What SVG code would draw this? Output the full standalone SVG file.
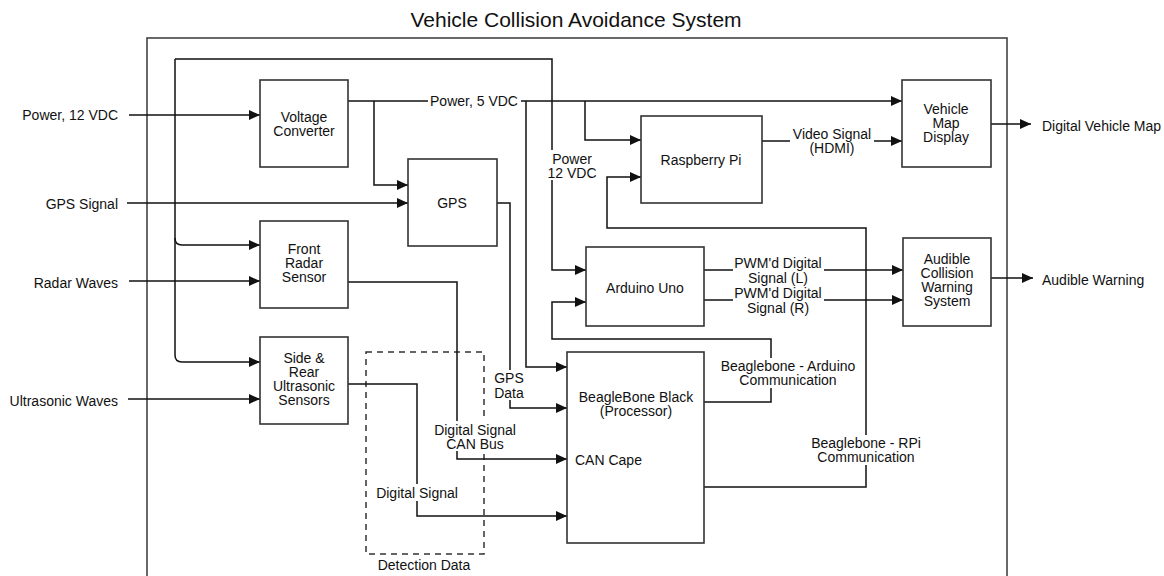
<svg xmlns="http://www.w3.org/2000/svg" width="1164" height="576" viewBox="0 0 1164 576">
<defs>
<style>
text{font-family:"Liberation Sans",Arial,sans-serif;font-size:14px;fill:#111}
.c{text-anchor:middle}
.e{text-anchor:end}
.box{fill:#fff;stroke:#333;stroke-width:1.6}
.ln{fill:none;stroke:#111;stroke-width:1.5}
.bg{fill:#fff;stroke:none}
</style>
<marker id="ah" markerUnits="userSpaceOnUse" markerWidth="11" markerHeight="10" refX="11" refY="5" orient="auto"><path d="M0,0 L11,5 L0,10 z" fill="#111"/></marker>
</defs>
<rect width="1164" height="576" fill="#fff"/>
<text x="576" y="27" class="c" style="font-size:21px">Vehicle Collision Avoidance System</text>
<rect x="147" y="38" width="860" height="560" fill="none" stroke="#444" stroke-width="1.6"/>
<rect x="366" y="352" width="118" height="202" fill="none" stroke="#333" stroke-width="1.5" stroke-dasharray="6,5"/>
<g id="connectors">
<path class="ln" marker-end="url(#ah)" d="M129,115 H260"/>
<path class="ln" marker-end="url(#ah)" d="M127,203 H408"/>
<path class="ln" marker-end="url(#ah)" d="M129,281 H260"/>
<path class="ln" marker-end="url(#ah)" d="M128,399 H260"/>
<path class="ln" marker-end="url(#ah)" d="M175,59 H552 V270 H586"/>
<path class="ln" marker-end="url(#ah)" d="M175,59 V355 Q175,362 182,362 H260"/>
<path class="ln" marker-end="url(#ah)" d="M175,238 Q175,245 182,245 H260"/>
<path class="ln" marker-end="url(#ah)" d="M348,101 H902"/>
<path class="ln" marker-end="url(#ah)" d="M374,101 V185 H408"/>
<path class="ln" marker-end="url(#ah)" d="M526,101 V367 H567"/>
<path class="ln" marker-end="url(#ah)" d="M585,101 V140 H641"/>
<path class="ln" marker-end="url(#ah)" d="M762,141 H902"/>
<path class="ln" marker-end="url(#ah)" d="M991,124 H1031"/>
<path class="ln" marker-end="url(#ah)" d="M704,487 H866 V228 H607 V177 H641"/>
<path class="ln" marker-end="url(#ah)" d="M704,402 H771 V339 H552 V302 H586"/>
<path class="ln" marker-end="url(#ah)" d="M704,270 H903"/>
<path class="ln" marker-end="url(#ah)" d="M704,300 H903"/>
<path class="ln" marker-end="url(#ah)" d="M991,278 H1033"/>
<path class="ln" marker-end="url(#ah)" d="M348,282 H457 V459 H567"/>
<path class="ln" marker-end="url(#ah)" d="M348,384 H417 V516 H567"/>
<path class="ln" marker-end="url(#ah)" d="M497,203 H510 V408 H567"/>
<rect class="bg" x="428" y="93" width="93" height="16"/>
<text x="474" y="106" class="c">Power, 5 VDC</text>
<rect class="bg" x="546" y="150" width="52" height="30"/>
<text x="572" y="164" class="c">Power</text>
<text x="572" y="178" class="c">12 VDC</text>
<rect class="bg" x="790" y="128" width="84" height="26"/>
<text x="832" y="139" class="c">Video Signal</text>
<text x="832" y="153" class="c">(HDMI)</text>
<rect class="bg" x="733" y="256" width="91" height="28"/>
<text x="778" y="268" class="c">PWM'd Digital</text>
<text x="778" y="283" class="c">Signal (L)</text>
<rect class="bg" x="733" y="286" width="91" height="28"/>
<text x="778" y="298" class="c">PWM'd Digital</text>
<text x="778" y="313" class="c">Signal (R)</text>
<rect class="bg" x="720" y="358" width="138" height="30"/>
<text x="788" y="371" class="c">Beaglebone - Arduino</text>
<text x="788" y="385" class="c">Communication</text>
<rect class="bg" x="810" y="435" width="112" height="30"/>
<text x="866" y="448" class="c">Beaglebone - RPi</text>
<text x="866" y="462" class="c">Communication</text>
<rect class="bg" x="492" y="370" width="33" height="30"/>
<text x="509" y="383" class="c">GPS</text>
<text x="509" y="398" class="c">Data</text>
<rect class="bg" x="433" y="421" width="84" height="30"/>
<text x="475" y="435" class="c">Digital Signal</text>
<text x="475" y="449" class="c">CAN Bus</text>
<rect class="bg" x="374" y="484" width="86" height="17"/>
<text x="417" y="498" class="c">Digital Signal</text>
</g>
<text x="424" y="570" class="c">Detection Data</text>
<text x="118" y="120" class="e">Power, 12 VDC</text>
<text x="118" y="209" class="e">GPS Signal</text>
<text x="118" y="288" class="e">Radar Waves</text>
<text x="118" y="406" class="e">Ultrasonic Waves</text>
<text x="1042" y="131">Digital Vehicle Map</text>
<text x="1042" y="285">Audible Warning</text>
<g id="voltage-converter"><rect class="box" x="260" y="80" width="88" height="87"/><text x="304" y="122" class="c">Voltage</text><text x="304" y="136" class="c">Converter</text></g>
<g id="gps"><rect class="box" x="408" y="159" width="89" height="87"/><text x="452" y="208" class="c">GPS</text></g>
<g id="raspberry-pi"><rect class="box" x="641" y="116" width="121" height="87"/><text x="701" y="165" class="c">Raspberry Pi</text></g>
<g id="vehicle-map-display"><rect class="box" x="902" y="80" width="89" height="87"/><text x="946" y="114" class="c">Vehicle</text><text x="946" y="128" class="c">Map</text><text x="946" y="142" class="c">Display</text></g>
<g id="front-radar-sensor"><rect class="box" x="260" y="221" width="88" height="87"/><text x="304" y="254" class="c">Front</text><text x="304" y="268" class="c">Radar</text><text x="304" y="282" class="c">Sensor</text></g>
<g id="side-rear-sensors"><rect class="box" x="260" y="337" width="88" height="87"/><text x="304" y="363" class="c">Side &amp;</text><text x="304" y="377" class="c">Rear</text><text x="304" y="391" class="c">Ultrasonic</text><text x="304" y="405" class="c">Sensors</text></g>
<g id="arduino-uno"><rect class="box" x="586" y="247" width="118" height="79"/><text x="645" y="293" class="c">Arduino Uno</text></g>
<g id="audible-warning-system"><rect class="box" x="903" y="238" width="88" height="88"/><text x="947" y="264" class="c">Audible</text><text x="947" y="278" class="c">Collision</text><text x="947" y="292" class="c">Warning</text><text x="947" y="306" class="c">System</text></g>
<g id="beaglebone-black"><rect class="box" x="567" y="352" width="137" height="191"/><text x="636" y="402" class="c">BeagleBone Black</text><text x="636" y="416" class="c">(Processor)</text><text x="575" y="465">CAN Cape</text></g>
</svg>
